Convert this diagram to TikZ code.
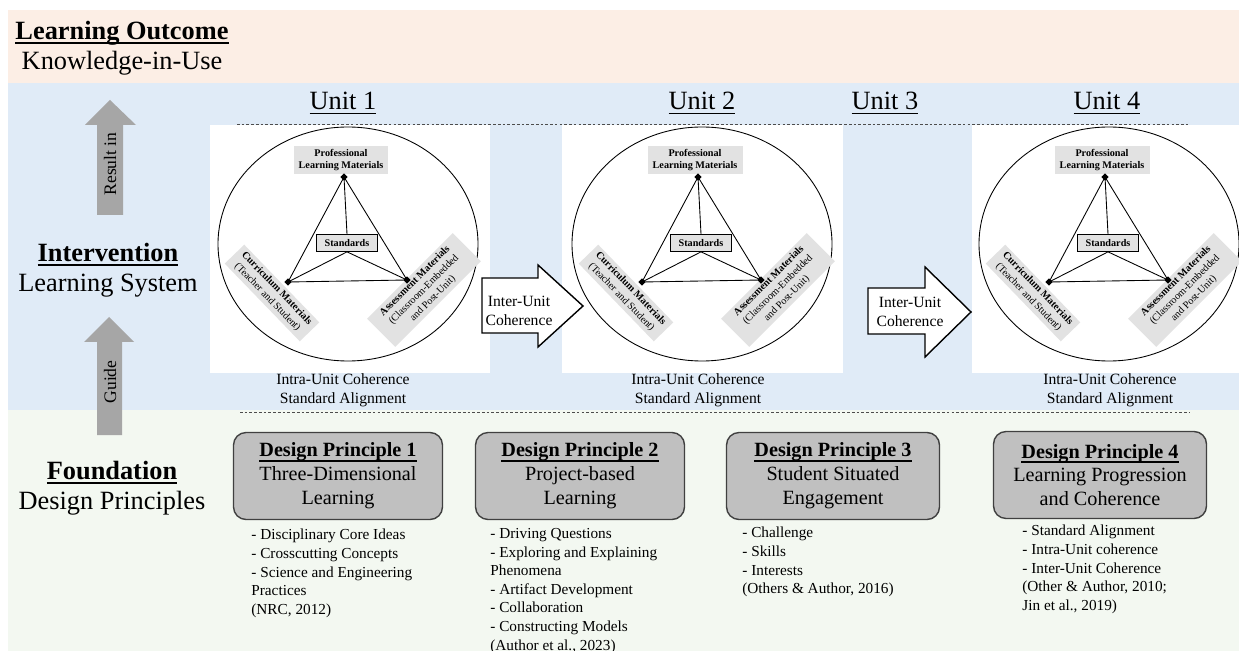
\documentclass[tikz,border=0pt]{standalone}
\usepackage{fontspec}
\setmainfont{Liberation Serif}
\usetikzlibrary{positioning}

\definecolor{outcomebg}{RGB}{252,238,229}
\definecolor{systembg}{RGB}{224,235,247}
\definecolor{foundbg}{RGB}{243,248,241}
\definecolor{dpfill}{RGB}{192,192,192}
\definecolor{tagfill}{RGB}{226,226,226}
\definecolor{liftgray}{RGB}{166,166,166}

% underline with a rule of chosen thickness
\newcommand\ulbar[2][0.9pt]{\setbox0=\hbox{#2}\rlap{\rule[-2.6pt]{\wd0}{#1}}\box0}

\begin{document}
\begin{tikzpicture}[x=0.02cm, y=-0.02cm,
heading/.style={align=center, font=\fontsize{15}{17}\selectfont},
unitlabel/.style={font=\fontsize{15}{17}\selectfont},
note/.style={align=center, font=\fontsize{8.9}{10.8}\selectfont},
tag/.style={fill=tagfill, align=center, inner sep=1.5pt, font=\fontsize{5.8}{7.2}\selectfont},
plmtag/.style={tag, minimum width=1.9cm, minimum height=0.52cm, font=\bfseries\fontsize{5.8}{7.2}\selectfont},
stdbox/.style={draw, fill=tagfill, inner sep=0pt, minimum width=1.22cm, minimum height=0.34cm, font=\bfseries\fontsize{5.8}{7}\selectfont},
vertex/.style={rectangle, fill=black, inner sep=0pt, minimum size=0.1cm, rotate=45},
principle/.style={draw=black!75, fill=dpfill, line width=0.8pt, rounded corners=0.25cm, align=center, minimum width=4.18cm, minimum height=1.74cm, font=\fontsize{11.5}{13.6}\selectfont},
points/.style={align=left, anchor=north west, inner sep=0pt, font=\fontsize{8.7}{10.6}\selectfont},
divider/.style={dashed, dash pattern=on 1.5pt off 1.2pt, black!70, line width=0.5pt},
linkarrow/.style={draw, fill=white, line width=0.8pt, line join=miter}
]
\useasboundingbox (0,0) rectangle (1239,651);

% background bands
\fill[outcomebg] (8,10) rectangle (1239,83);
\fill[systembg] (8,83) rectangle (1239,410);
\fill[foundbg] (8,410) rectangle (1239,651);

% left column
\node[heading] (outcome) at (122,48) {\textbf{\ulbar[1.1pt]{Learning Outcome}}\\Knowledge-in-Use};
\node[heading] (intervention) at (108,270) {\textbf{\ulbar[1.1pt]{Intervention}}\\Learning System};
\node[heading] (foundation) at (112,488) {\textbf{\ulbar[1.1pt]{Foundation}}\\Design Principles};

\fill[liftgray] (110,100) -- (136,125) -- (123,125) -- (123,215) -- (97,215) -- (97,125) -- (85,125) -- cycle;
\node[rotate=90, font=\fontsize{10}{12}\selectfont] (resultin) at (110,164) {Result in};
\fill[liftgray] (109,317) -- (134,342) -- (122,342) -- (122,435) -- (97,435) -- (97,342) -- (84,342) -- cycle;
\node[rotate=90, font=\fontsize{10}{12}\selectfont] (guide) at (110,382) {Guide};

% unit panels
\foreach \cx/\bl/\br/\u in {348/210/490/1, 702/562/843/2, 1109/972/1239/4}{
  \fill[white] (\bl,125) rectangle (\br,373);
  \draw[line width=0.5pt] (\cx,244) ellipse [x radius=130, y radius=117];
  \node[plmtag] (plm\u) at (\cx-7,160) {Professional\\Learning Materials};
  \node[stdbox] (std\u) at (\cx-1,243) {Standards};
  \node[tag, rotate=-46, minimum width=2.16cm] (cur\u) at (\cx-76,293) {\textbf{Curriculum Materials}\\(Teacher and Student)};
  \node[tag, rotate=45, minimum width=2.42cm] (asm\u) at (\cx+76,290) {\textbf{Assessment Materials}\\(Classroom-Embedded\\and Post-Unit)};
  \coordinate (top\u) at (\cx-4,177);
  \coordinate (lft\u) at (\cx-60,282);
  \coordinate (rgt\u) at (\cx+59,280);
  \draw[line width=0.5pt] (top\u) -- (lft\u) -- (rgt\u) -- cycle;
  \draw[line width=0.5pt] (top\u) -- (std\u.north);
  \draw[line width=0.5pt] (lft\u) -- (std\u.south) -- (rgt\u);
  \node[vertex] (mtop\u) at (top\u) {};
  \node[vertex] (mlft\u) at (lft\u) {};
  \node[vertex] (mrgt\u) at (rgt\u) {};
}

% dashed dividers
\draw[divider] (237,124) -- (1190,124);
\draw[divider] (240,412) -- (1190,412);

% unit titles
\node[unitlabel] (unit1) at (343,103) {\ulbar[0.6pt]{Unit 1}};
\node[unitlabel] (unit2) at (702,103) {\ulbar[0.6pt]{Unit 2}};
\node[unitlabel] (unit3) at (885,103) {\ulbar[0.6pt]{Unit 3}};
\node[unitlabel] (unit4) at (1107,103) {\ulbar[0.6pt]{Unit 4}};

\node[note] (intra1) at (343,390) {Intra-Unit Coherence\\Standard Alignment};
\node[note] (intra2) at (698,390) {Intra-Unit Coherence\\Standard Alignment};
\node[note] (intra4) at (1110,390) {Intra-Unit Coherence\\Standard Alignment};

% inter-unit arrows
\draw[linkarrow] (482,278) -- (538,278) -- (538,265) -- (583,306) -- (538,347) -- (538,333) -- (482,333) -- cycle;
\node[note] (link1) at (519,311) {Inter-Unit\\Coherence};
\draw[linkarrow] (868,288) -- (925,288) -- (925,267) -- (971,312) -- (925,357) -- (925,334) -- (868,334) -- cycle;
\node[note] (link2) at (910,312) {Inter-Unit\\Coherence};

% design principles
\node[principle] (dp1) at (338,476) {\textbf{\ulbar{Design Principle 1}}\\Three-Dimensional\\Learning};
\node[principle] (dp2) at (580,476) {\textbf{\ulbar{Design Principle 2}}\\Project-based\\Learning};
\node[principle, minimum width=4.26cm] (dp3) at (833,476) {\textbf{\ulbar{Design Principle 3}}\\Student Situated\\Engagement};
\node[principle, minimum width=4.26cm] (dp4) at (1100,475) {\textbf{\ulbar{Design Principle 4}}\\Learning Progression\\and Coherence};

\node[points] (list1) at (251,529) {- Disciplinary Core Ideas\\- Crosscutting Concepts\\- Science and Engineering\\Practices\\(NRC, 2012)};
\node[points] (list2) at (490,528) {- Driving Questions\\- Exploring and Explaining\\Phenomena\\- Artifact Development\\- Collaboration\\- Constructing Models\\(Author et al., 2023)};
\node[points] (list3) at (742,527) {- Challenge\\- Skills\\- Interests\\(Others \& Author, 2016)};
\node[points] (list4) at (1022,525) {- Standard Alignment\\- Intra-Unit coherence\\- Inter-Unit Coherence\\(Other \& Author, 2010;\\Jin et al., 2019)};

\end{tikzpicture}
\end{document}
